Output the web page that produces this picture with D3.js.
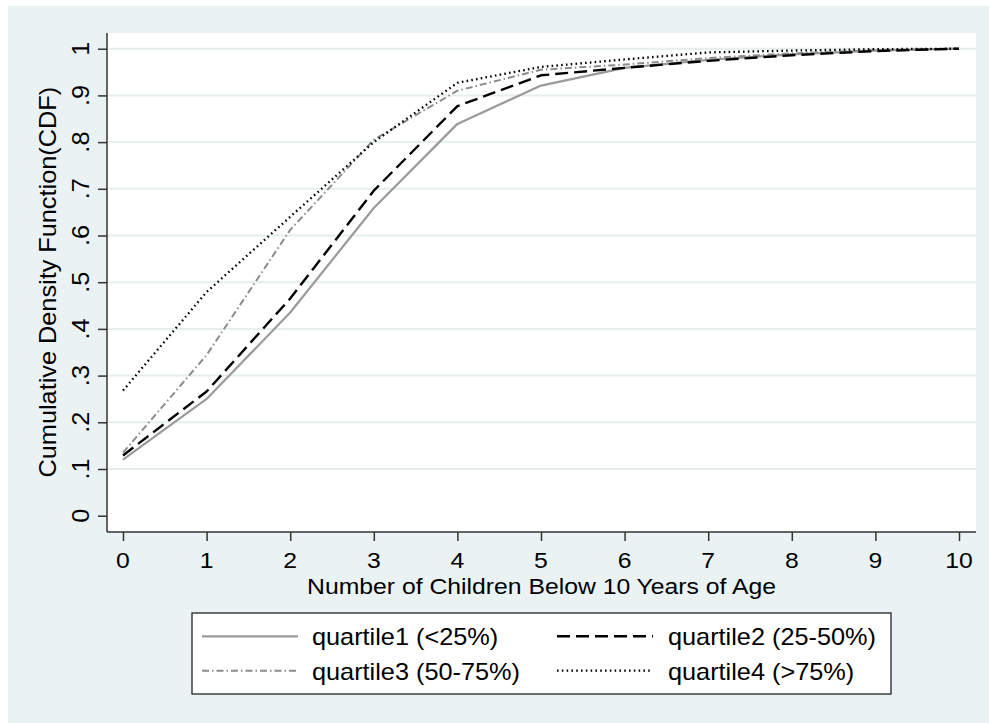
<!DOCTYPE html>
<html>
<head>
<meta charset="utf-8">
<script src="https://cdn.jsdelivr.net/npm/d3@7"></script>
<style>
  body { margin: 0; background: #ffffff; }
  svg { display: block; }
  text { font-family: "Liberation Sans", Arial, sans-serif; fill: #000; }
</style>
</head>
<body>
<div id="chart"></div>
<script>
// ---- data ----
const children = [0, 1, 2, 3, 4, 5, 6, 7, 8, 9, 10];
const quartile1 = [0.120, 0.250, 0.435, 0.659, 0.839, 0.921, 0.959, 0.976, 0.988, 0.996, 1.000];
const quartile2 = [0.129, 0.266, 0.465, 0.696, 0.877, 0.943, 0.959, 0.974, 0.986, 0.995, 1.000];
const quartile3 = [0.135, 0.344, 0.612, 0.805, 0.910, 0.955, 0.966, 0.980, 0.990, 0.997, 1.000];
const quartile4 = [0.268, 0.479, 0.640, 0.800, 0.927, 0.961, 0.977, 0.992, 0.996, 0.999, 1.000];
const seriesNames = ["quartile1 (<25%)", "quartile2 (25-50%)", "quartile3 (50-75%)", "quartile4 (>75%)"];
const yTicks = [0, 0.1, 0.2, 0.3, 0.4, 0.5, 0.6, 0.7, 0.8, 0.9, 1];
const yTickLabels = ["0", ".1", ".2", ".3", ".4", ".5", ".6", ".7", ".8", ".9", "1"];
const xTitle = "Number of Children Below 10 Years of Age";
const yTitle = "Cumulative Density Function(CDF)";

const W = 989, H = 723;
const svg = d3.select("#chart").append("svg").attr("width", W).attr("height", H);

// backgrounds
svg.append("rect").attr("x", 8).attr("y", 6).attr("width", W - 8).attr("height", H - 6).attr("fill", "#eaf2f3");
const plot = { left: 107, right: 976, top: 33, bottom: 532 };
svg.append("rect").attr("x", plot.left).attr("y", plot.top)
  .attr("width", plot.right - plot.left).attr("height", plot.bottom - plot.top).attr("fill", "#ffffff");

const x = d3.scaleLinear().domain([0, 10]).range([123, 959]);
const y = d3.scaleLinear().domain([0, 1]).range([515.7, 48.7]);

const SX = 1.1; // horizontal widening of text to mimic Stata font
const FS = 23;

// gridlines
svg.append("g").selectAll("line").data(yTicks.filter(d => d > 0)).join("line")
  .attr("x1", plot.left + 1).attr("x2", plot.right)
  .attr("y1", d => y(d)).attr("y2", d => y(d))
  .attr("stroke", "#e6eef0").attr("stroke-width", 2);

// y axis
const yAxis = d3.axisLeft(y).tickValues(yTicks).tickSize(9).tickFormat("");
const gy = svg.append("g").attr("transform", `translate(${plot.left},0)`).call(yAxis);
gy.select(".domain").remove();
gy.selectAll(".tick line").attr("stroke", "#333").attr("stroke-width", 1.5);
svg.append("line").attr("x1", plot.left).attr("x2", plot.left).attr("y1", plot.top).attr("y2", plot.bottom)
  .attr("stroke", "#333").attr("stroke-width", 1.5);
svg.append("g").selectAll("text").data(yTicks).join("text")
  .attr("transform", (d) => `translate(88.5,${y(d)}) rotate(-90) scale(${SX},1)`)
  .attr("text-anchor", "middle").attr("font-size", FS)
  .text((d, i) => yTickLabels[i]);

// x axis
const xAxis = d3.axisBottom(x).tickValues(children).tickSize(9).tickFormat("");
const gx = svg.append("g").attr("transform", `translate(0,${plot.bottom})`).call(xAxis);
gx.select(".domain").remove();
gx.selectAll(".tick line").attr("stroke", "#333").attr("stroke-width", 1.5);
svg.append("line").attr("x1", plot.left).attr("x2", plot.right).attr("y1", plot.bottom).attr("y2", plot.bottom)
  .attr("stroke", "#333").attr("stroke-width", 1.5);
svg.append("g").selectAll("text").data(children).join("text")
  .attr("transform", d => `translate(${x(d)},568) scale(${SX},1)`)
  .attr("text-anchor", "middle").attr("font-size", 22.5)
  .text(d => d);

// titles
svg.append("text").attr("transform", `translate(${(plot.left + plot.right) / 2},594) scale(${SX},1)`)
  .attr("text-anchor", "middle").attr("font-size", 22.5).text(xTitle);
svg.append("text").attr("transform", `translate(56,${(y(0) + y(1)) / 2}) rotate(-90) scale(${SX},1)`)
  .attr("text-anchor", "middle").attr("font-size", FS).text(yTitle);

// series styles
const styles = [
  { color: "#9a9a9a", width: 2.2, dash: null },
  { color: "#000000", width: 2.4, dash: "13,6" },
  { color: "#8c8c8c", width: 2, dash: "7,3,1.5,3" },
  { color: "#000000", width: 2.3, dash: "1.6,3.2" }
];
const allSeries = [quartile1, quartile2, quartile3, quartile4];
const line = d3.line().x((d, i) => x(children[i])).y(d => y(d));

const drawOrder = [0, 2, 1, 3];
drawOrder.forEach(k => {
  const s = styles[k];
  svg.append("path").datum(allSeries[k])
    .attr("d", line).attr("fill", "none")
    .attr("stroke", s.color).attr("stroke-width", s.width)
    .attr("stroke-dasharray", s.dash)
    .attr("stroke-linejoin", "round");
});

// legend
const lg = svg.append("g");
lg.append("rect").attr("x", 192).attr("y", 613).attr("width", 699).attr("height", 81)
  .attr("fill", "#ffffff").attr("stroke", "#222").attr("stroke-width", 1.3);
const legendPos = [
  { lx: 202, tx: 312, ly: 636.3, ty: 645 },
  { lx: 557, tx: 668, ly: 636.3, ty: 645 },
  { lx: 202, tx: 312, ly: 670.7, ty: 679.5 },
  { lx: 557, tx: 668, ly: 670.7, ty: 679.5 }
];
seriesNames.forEach((name, k) => {
  const p = legendPos[k], s = styles[k];
  lg.append("line").attr("x1", p.lx).attr("x2", p.lx + 96).attr("y1", p.ly).attr("y2", p.ly)
    .attr("stroke", s.color).attr("stroke-width", s.width).attr("stroke-dasharray", s.dash);
  lg.append("text").attr("transform", `translate(${p.tx},${p.ty}) scale(${SX},1)`)
    .attr("font-size", FS).text(name);
});
</script>
</body>
</html>
